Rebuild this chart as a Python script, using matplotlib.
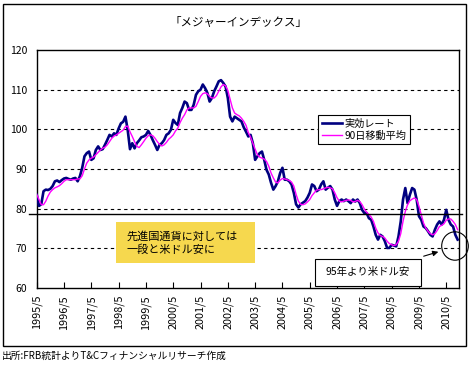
import numpy as np
import matplotlib
matplotlib.use("Agg")
import matplotlib.pyplot as plt
from matplotlib.patches import Rectangle, Ellipse

plt.rcParams['font.family'] = ['Noto Sans CJK JP', 'DejaVu Sans']

# monthly values, 1995/5 .. 2010/10
rate = [
    83.5, 80.7, 81.1, 84.4, 84.8, 84.7, 85.0, 85.7,
    86.9, 87.1, 86.7, 87.2, 87.6, 87.75, 87.5, 87.3, 87.6, 87.75, 86.9, 88.2,
    90.3, 93.2, 94.0, 94.4, 92.3, 92.7, 94.8, 95.7, 94.8, 95.0, 96.1, 97.3,
    98.6, 98.2, 99.0, 98.6, 100.2, 101.5, 101.9, 103.2, 99.8, 95.0, 96.5, 95.2,
    96.5, 97.2, 98.0, 98.2, 98.6, 99.6, 98.6, 97.3, 96.1, 94.8, 96.1, 96.5,
    97.3, 98.6, 99.0, 99.9, 102.4, 101.6, 101.1, 104.1, 105.4, 107.0, 106.6, 104.9,
    104.9, 106.2, 108.7, 109.6, 110.0, 111.3, 110.4, 109.2, 107.0, 107.9, 109.6, 110.8,
    112.1, 112.4, 111.7, 110.8, 107.9, 103.2, 102.0, 103.2, 102.8, 102.4, 102.0, 100.5,
    99.4, 98.2, 98.6, 96.5, 92.3, 93.2, 94.0, 94.4, 92.3, 89.8, 88.6, 86.5,
    84.8, 85.7, 86.9, 89.0, 90.3, 87.3, 87.3, 86.9, 86.1, 84.0, 81.1, 80.3,
    81.1, 81.5, 81.9, 82.8, 84.0, 86.1, 85.7, 84.4, 84.8, 86.1, 86.9, 84.8,
    85.3, 85.7, 84.8, 82.3, 80.7, 81.9, 82.3, 81.9, 82.3, 81.9, 81.4, 82.3,
    81.8, 82.3, 81.4, 79.7, 78.9, 78.9, 77.6, 77.2, 75.5, 73.4, 72.2, 73.4,
    73.0, 71.8, 70.1, 70.1, 70.9, 70.7, 70.5, 73.0, 76.8, 82.3, 85.2, 81.4,
    83.5, 85.2, 84.8, 82.3, 78.1, 77.2, 75.5, 75.1, 74.3, 73.4, 73.0, 74.7,
    76.0, 76.8, 76.0, 77.2, 79.7, 77.2, 76.0, 75.5, 73.4, 72.2,
]

ma90 = [
    83.6, 82.3, 81.0, 81.0, 81.9, 83.2, 84.2, 84.8,
    85.25, 85.5, 85.8, 86.3, 86.9, 87.3, 87.3, 87.3, 87.3, 87.3, 87.5, 87.5,
    88.3, 90.0, 91.5, 92.3, 92.75, 93.0, 93.6, 94.2, 94.8, 95.25, 95.5, 96.1,
    96.9, 97.75, 98.3, 98.6, 99.0, 99.4, 99.8, 100.7, 100.8, 99.4, 98.2, 96.9,
    95.7, 95.4, 96.1, 96.9, 97.75, 98.4, 98.6, 98.4, 97.75, 96.9, 96.2, 95.8,
    96.1, 96.7, 97.5, 98.0, 98.6, 99.6, 100.3, 101.7, 102.8, 103.7, 104.9, 105.4,
    105.4, 105.4, 105.8, 107.0, 108.3, 109.0, 109.2, 109.0, 108.3, 107.9, 107.9, 108.5,
    109.6, 110.7, 111.3, 111.0, 109.8, 107.6, 105.4, 104.1, 103.7, 103.4, 102.8, 102.0,
    101.0, 99.2, 98.0, 96.5, 95.0, 93.6, 93.0, 92.75, 92.5, 91.9, 90.7, 89.0,
    87.75, 86.7, 86.5, 87.2, 87.6, 87.5, 87.3, 87.1, 86.7, 85.7, 83.6, 81.9,
    81.1, 81.0, 81.2, 81.7, 82.3, 83.3, 84.0, 84.7, 84.8, 84.8, 85.0, 85.25,
    85.4, 85.25, 85.0, 84.0, 82.75, 81.9, 81.7, 81.9, 82.1, 82.2, 82.1, 81.7,
    81.8, 82.1, 81.8, 81.0, 79.9, 79.1, 78.5, 77.9, 76.8, 75.1, 73.9, 73.2,
    73.0, 72.6, 71.8, 71.2, 70.9, 70.7, 70.9, 71.8, 73.7, 76.8, 79.3, 81.0,
    82.0, 82.4, 82.7, 82.3, 80.6, 78.5, 76.4, 75.1, 74.3, 73.7, 73.4, 73.7,
    74.5, 75.5, 75.8, 76.2, 77.1, 77.4, 77.4, 76.8, 76.0, 74.7,
]

tick_labels = ["1995/5", "1996/5", "1997/5", "1998/5", "1999/5", "2000/5",
               "2001/5", "2002/5", "2003/5", "2004/5", "2005/5", "2006/5",
               "2007/5", "2008/5", "2009/5", "2010/5"]
ref_level = 78.7

W, H = 473, 365
fig = plt.figure(figsize=(W / 100, H / 100), dpi=100)
fig.patch.set_facecolor("white")

# outer frame
fig.patches.append(Rectangle((3 / W, 1 - 346 / H), 463 / W, 342 / H,
                             transform=fig.transFigure, fill=False,
                             edgecolor="black", linewidth=1.0))

ax = fig.add_axes([36.7 / W, 1 - 288 / H, (459 - 36.7) / W, (288 - 50) / H])

x = np.arange(len(rate))
ax.plot(x, rate, color="#000080", linewidth=1.9, label="実効レート", zorder=3)
ax.plot(x, ma90, color="#FF00FF", linewidth=1.0, label="90日移動平均", zorder=4)

ax.set_xlim(0, 185.6)
ax.set_ylim(60, 120)
ax.set_yticks(range(60, 121, 10))
ax.tick_params(axis="y", length=0, pad=7, labelsize=7.5)
ax.set_xticks(range(0, 12 * len(tick_labels), 12))
ax.set_xticklabels(tick_labels, rotation=90)
ax.tick_params(axis="x", direction="in", length=4, pad=5, labelsize=7.8)
for v in range(70, 120, 10):
    ax.axhline(v, color="black", linewidth=0.8, linestyle=(0, (3, 3)), zorder=1)
for s in ax.spines.values():
    s.set_linewidth(1.0)

# reference level line, extending a little past the plot edges
ax.plot([-0.018, 1.007], [ref_level, ref_level], color="black", linewidth=1.0,
        transform=ax.get_yaxis_transform(), clip_on=False, zorder=5)

leg = ax.legend(loc="upper left", bbox_to_anchor=(0.666, 0.727),
                borderaxespad=0, fancybox=False, edgecolor="black",
                framealpha=1, fontsize=7.3, handlelength=2.0,
                borderpad=0.35, labelspacing=0.2, handletextpad=0.3)
leg.get_frame().set_linewidth(0.8)

fig.text(238 / W, 1 - 22 / H, "「メジャーインデックス」", fontsize=8.3,
         ha="center", va="center")

# yellow comment box
fig.patches.append(Rectangle((116 / W, 1 - 263 / H), 139 / W, 41 / H,
                             transform=fig.transFigure, facecolor="#F6D84E",
                             edgecolor="none", zorder=6))
fig.text(127 / W, 1 - 236 / H, "先進国通貨に対しては", fontsize=8,
         ha="left", va="center", zorder=7)
fig.text(127 / W, 1 - 250 / H, "一段と米ドル安に", fontsize=8,
         ha="left", va="center", zorder=7)

# callout box, circle and arrow
fig.patches.append(Rectangle((315 / W, 1 - 286 / H), 106 / W, 27 / H,
                             transform=fig.transFigure, facecolor="white",
                             edgecolor="black", linewidth=0.8, zorder=6))
fig.text(368 / W, 1 - 272 / H, "95年より米ドル安", fontsize=7.5,
         ha="center", va="center", zorder=7)
fig.patches.append(Ellipse((455 / W, 1 - 246 / H), 26.6 / W, 28.4 / H,
                           transform=fig.transFigure, fill=False,
                           edgecolor="black", linewidth=0.8, zorder=6))
ax.annotate("", xy=(441 / W, 1 - 251 / H), xytext=(421 / W, 1 - 257 / H),
            xycoords="figure fraction", textcoords="figure fraction",
            arrowprops=dict(arrowstyle="-|>", color="black", lw=0.8,
                            mutation_scale=8))

fig.text(2 / W, 1 - 356 / H, "出所:FRB統計よりT&Cフィナンシャルリサーチ作成",
         fontsize=7, ha="left", va="center")

fig.savefig("out.png", dpi=100)
